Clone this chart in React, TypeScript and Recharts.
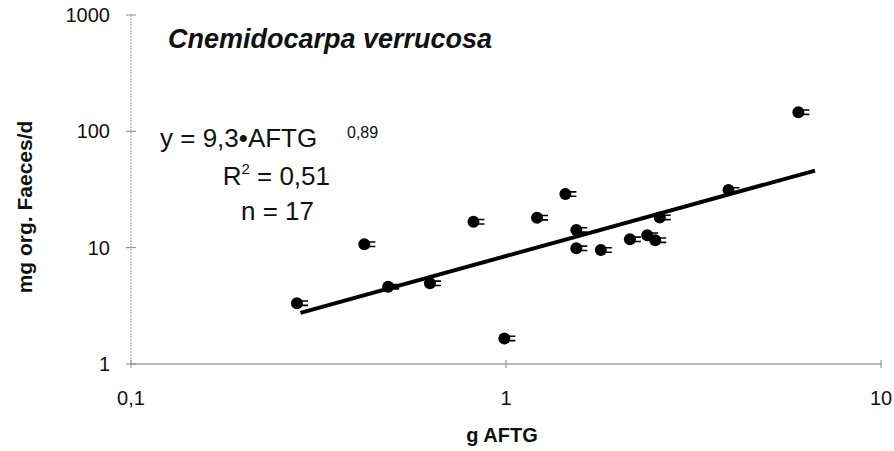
import { ScatterChart, Scatter, XAxis, YAxis } from 'recharts'

// g AFTG (x) and mg org. Faeces/d (y)
const aftg = [0.277, 0.419, 0.485, 0.627, 0.819, 0.99, 1.21, 1.44, 1.54, 1.54, 1.79, 2.14, 2.38, 2.5, 2.57, 3.92, 6.02]
const faeces = [3.33, 10.7, 4.62, 4.94, 16.7, 1.66, 18.1, 28.9, 14.2, 9.87, 9.55, 11.8, 12.8, 11.6, 18.2, 31.3, 146]

// ends of the drawn regression line
const fitX = [0.283, 6.67]
const fitY = [2.75, 46]

const xTicks = [0.1, 1, 10]
const yTicks = [1, 10, 100, 1000]

const points = aftg.map((x, i) => ({ x, y: faeces[i] }))
const fit = fitX.map((x, i) => ({ x, y: fitY[i] }))

const FONT = '"Liberation Sans", Arial, Helvetica, sans-serif'

const fmt = (v: number) => String(v).replace('.', ',')

function YTick({ x, y, payload }: any) {
  return (
    <g>
      <line x1={x - 5} x2={x + 5} y1={y} y2={y} stroke="#888" />
      <text x={x - 21} y={y} dy={7} textAnchor="end" fontSize={20} fontFamily={FONT} fill="#111">
        {fmt(payload.value)}
      </text>
    </g>
  )
}

function XTick({ x, y, payload }: any) {
  return (
    <g>
      <line x1={x} x2={x} y1={y - 4} y2={y + 4} stroke="#888" />
      <text x={x} y={y + 41} textAnchor="middle" fontSize={20} fontFamily={FONT} fill="#111">
        {fmt(payload.value)}
      </text>
    </g>
  )
}

function Dot({ cx, cy }: any) {
  if (cx == null || cy == null) return <g />
  return (
    <g>
      <circle cx={cx} cy={cy} r={6} fill="#000" />
      <path d={`M${cx + 4} ${cy - 2.2}H${cx + 11}M${cx + 4} ${cy + 2.2}H${cx + 11}`} stroke="#000" strokeWidth={1.6} />
    </g>
  )
}

export default function App() {
  return (
    <div style={{ position: 'absolute', left: 0, top: 0, width: 894, height: 451, background: '#fff' }}>
      <ScatterChart width={894} height={451} margin={{ top: 15, right: 13, bottom: 0, left: 0 }}>
        <XAxis
          type="number"
          dataKey="x"
          scale="log"
          domain={[0.1, 10]}
          ticks={xTicks}
          allowDataOverflow
          height={87}
          tickSize={0}
          tickMargin={0}
          tickLine={false}
          axisLine={{ stroke: '#777', strokeWidth: 1.2 }}
          tick={<XTick />}
        />
        <YAxis
          type="number"
          dataKey="y"
          scale="log"
          domain={[1, 1000]}
          ticks={yTicks}
          allowDataOverflow
          width={131}
          tickSize={0}
          tickMargin={0}
          tickLine={false}
          axisLine={{ stroke: '#999', strokeDasharray: '2 1' }}
          tick={<YTick />}
        />
        <Scatter data={fit} line={{ stroke: '#000', strokeWidth: 4 }} shape={() => <g />} isAnimationActive={false} />
        <Scatter data={points} shape={<Dot />} isAnimationActive={false} />
      </ScatterChart>
      <svg width={894} height={451} style={{ position: 'absolute', left: 0, top: 0, pointerEvents: 'none' }}>
        <g fontFamily={FONT} fill="#111">
          <text x={168} y={48} fontSize={27} fontWeight="bold" fontStyle="italic">Cnemidocarpa verrucosa</text>
          <text x={160} y={147} fontSize={26}>y = 9,3•AFTG</text>
          <text x={347} y={138} fontSize={16}>0,89</text>
          <text x={330} y={185} fontSize={26} textAnchor="end">
            R<tspan fontSize={15} dy={-11}>2</tspan>
            <tspan dy={11}> = 0,51</tspan>
          </text>
          <text x={314} y={220} fontSize={26} textAnchor="end">n = 17</text>
          <text x={502} y={442} fontSize={20} fontWeight="bold" textAnchor="middle">g AFTG</text>
          <text x={0} y={0} fontSize={21} fontWeight="bold" textAnchor="middle" transform="translate(32 207) rotate(-90)">
            mg org. Faeces/d
          </text>
        </g>
      </svg>
    </div>
  )
}
